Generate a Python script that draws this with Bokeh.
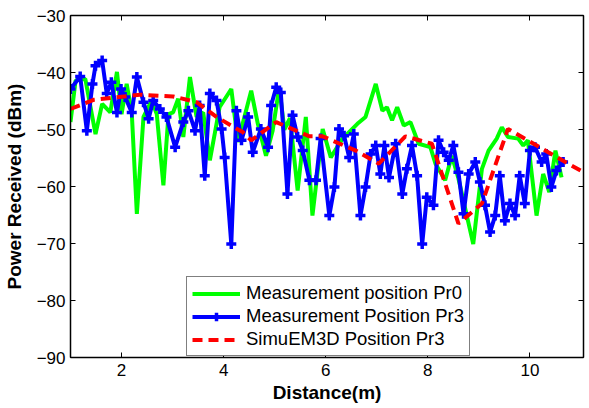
from bokeh.plotting import figure
from bokeh.models import Range1d, LinearAxis, FixedTicker, Legend, LegendItem
from bokeh.embed import file_html
from bokeh.resources import INLINE

# ---- data ----
pr0_x = [1.00, 1.10, 1.29, 1.49, 1.62, 1.78, 1.91, 2.00, 2.10, 2.20, 2.30, 2.43, 2.59, 2.69,
         2.82, 2.92, 3.01, 3.11, 3.21, 3.34, 3.47, 3.60, 3.73, 3.92, 4.15, 4.28, 4.54, 4.67,
         4.83, 4.96, 5.09, 5.19, 5.30, 5.45, 5.61, 5.74, 5.94, 6.10, 6.33, 6.62, 6.78, 6.98,
         7.11, 7.20, 7.30, 7.40, 7.53, 7.66, 7.82, 8.05, 8.15, 8.34, 8.47, 8.60, 8.89, 9.06,
         9.19, 9.35, 9.45, 9.57, 9.77, 9.87, 9.96, 10.13, 10.26, 10.38, 10.50, 10.62]
pr0_y = [-48.7, -41.4, -41.1, -50.8, -45.5, -47.0, -39.9, -47.3, -42.0, -47.0, -64.8, -47.8, -44.9, -47.3,
         -59.8, -47.3, -47.0, -44.6, -51.3, -40.8, -47.8, -47.0, -55.4, -46.1, -42.9, -52.2, -43.2, -49.0,
         -54.6, -50.2, -42.6, -50.0, -48.0, -60.7, -47.8, -65.1, -49.9, -54.9, -51.6, -49.0, -47.8, -42.0,
         -46.7, -46.1, -48.4, -46.1, -49.3, -48.7, -52.5, -53.1, -56.0, -58.9, -54.6, -58.6, -70.1, -56.9,
         -53.7, -51.6, -49.6, -51.3, -51.6, -52.8, -51.9, -65.1, -57.8, -61.0, -53.7, -58.4]

pr3_x = [1.00, 1.19, 1.32, 1.43, 1.49, 1.62, 1.71, 1.80, 1.91, 1.99, 2.07, 2.20, 2.30, 2.43,
         2.53, 2.62, 2.75, 2.88, 3.05, 3.21, 3.31, 3.44, 3.53, 3.63, 3.73, 3.86, 3.96, 4.02,
         4.15, 4.25, 4.35, 4.48, 4.57, 4.73, 4.87, 4.93, 5.03, 5.12, 5.25, 5.35, 5.45, 5.55,
         5.68, 5.81, 5.90, 6.07, 6.17, 6.26, 6.36, 6.46, 6.55, 6.68, 6.78, 6.88, 6.98, 7.07,
         7.15, 7.24, 7.37, 7.50, 7.59, 7.69, 7.79, 7.89, 7.98, 8.11, 8.21, 8.31, 8.41, 8.50,
         8.60, 8.70, 8.80, 8.93, 9.02, 9.12, 9.22, 9.32, 9.41, 9.51, 9.61, 9.71, 9.80, 9.90,
         10.00, 10.10, 10.23, 10.32, 10.42, 10.52, 10.65]
pr3_y = [-42.9, -40.7, -50.2, -42.0, -38.8, -37.9, -43.7, -41.7, -47.0, -42.9, -44.3, -47.0, -40.8, -45.2,
         -48.1, -44.9, -46.4, -47.8, -53.1, -48.7, -46.7, -50.2, -45.8, -58.1, -43.7, -44.9, -49.9, -54.9,
         -70.1, -46.7, -51.9, -47.8, -54.0, -49.9, -53.1, -45.8, -42.6, -43.5, -61.3, -47.5, -51.3, -53.7,
         -58.9, -58.9, -51.6, -65.1, -60.1, -49.9, -51.1, -54.9, -50.8, -65.1, -60.1, -54.3, -52.8, -57.8,
         -52.8, -58.4, -52.5, -61.3, -56.9, -52.8, -58.1, -70.1, -61.9, -63.3, -51.9, -54.0, -55.4, -52.8,
         -57.5, -64.8, -57.8, -55.7, -59.2, -63.3, -68.0, -65.1, -58.1, -66.0, -63.0, -65.1, -58.1, -63.0,
         -53.7, -53.1, -55.7, -54.3, -60.1, -57.2, -55.7]

sim_x = [1.00, 1.45, 2.36, 3.01, 3.47, 3.86, 4.38, 4.54, 5.03, 5.68, 5.94, 6.59, 7.04, 7.56,
         8.08, 8.60, 9.06, 9.57, 10.36, 11.05]
sim_y = [-46.4, -44.8, -43.9, -44.2, -45.2, -47.8, -50.5, -51.9, -48.7, -51.2, -51.2, -53.7, -56.0, -51.2,
         -52.5, -66.5, -63.0, -49.9, -54.0, -57.5]

x_ticks = [2, 4, 6, 8, 10]
y_ticks = [-90, -80, -70, -60, -50, -40, -30]
labels = ["Measurement position Pr0", "Measurement Position Pr3", "SimuEM3D Position Pr3"]

FONT = "Liberation Sans"

p = figure(width=589, height=408, output_backend="svg", toolbar_location=None,
           x_range=Range1d(1.0, 11.05), y_range=Range1d(-90, -30),
           min_border_left=67, min_border_right=6, min_border_top=15, min_border_bottom=51)
p.background_fill_color = "white"
p.border_fill_color = "white"
p.xgrid.visible = False
p.ygrid.visible = False
p.outline_line_color = "black"
p.outline_line_width = 1

def style_axis(ax, show_labels=True):
    ax.axis_line_color = "black"
    ax.axis_line_width = 1.5
    ax.major_tick_in = 5
    ax.major_tick_out = 0
    ax.minor_tick_line_color = None
    ax.major_tick_line_color = "black"
    ax.major_label_text_font = FONT
    if show_labels:
        ax.major_label_text_font_size = "17px"
        ax.major_label_text_color = "black"
    else:
        ax.major_label_text_font_size = "1px"
        ax.major_label_text_color = None
        ax.major_label_standoff = 0

p.xaxis.ticker = FixedTicker(ticks=x_ticks)
p.yaxis.ticker = FixedTicker(ticks=y_ticks)
style_axis(p.xaxis[0])
style_axis(p.yaxis[0])
p.xaxis.major_label_standoff = 6
p.yaxis.major_label_standoff = 5
p.xaxis.axis_label = "Distance(m)"
p.yaxis.axis_label = "Power Received (dBm)"
for ax in (p.xaxis[0], p.yaxis[0]):
    ax.axis_label_text_font = FONT
    ax.axis_label_text_font_style = "bold"
    ax.axis_label_text_font_size = "19px"
    ax.axis_label_text_color = "black"
p.xaxis.axis_label_standoff = 3
p.yaxis.axis_label_standoff = 9

top = LinearAxis(ticker=FixedTicker(ticks=x_ticks))
right = LinearAxis(ticker=FixedTicker(ticks=y_ticks))
style_axis(top, False)
style_axis(right, False)
p.add_layout(top, "above")
p.add_layout(right, "right")

g = p.line(pr0_x, pr0_y, line_color="#00FF00", line_width=4)
b = p.line(pr3_x, pr3_y, line_color="#0000FF", line_width=4)
bm = p.scatter(pr3_x, pr3_y, marker="cross", size=10, line_color="#0000FF", line_width=3.5)
r = p.line(sim_x, sim_y, line_color="#FF0000", line_width=4, line_dash="10 6")

legend = Legend(items=[LegendItem(label=labels[0], renderers=[g]),
                       LegendItem(label=labels[1], renderers=[b, bm]),
                       LegendItem(label=labels[2], renderers=[r])],
                location=(116, 1))
legend.label_text_font = FONT
legend.label_text_font_size = "18.5px"
legend.label_text_color = "black"
legend.glyph_width = 48
legend.glyph_height = 21
legend.label_height = 21
legend.spacing = 1
legend.padding = 5
legend.margin = 0
legend.label_standoff = 6
legend.border_line_color = "black"
legend.border_line_width = 1
legend.background_fill_color = "white"
legend.background_fill_alpha = 1
p.add_layout(legend, "center")

open("out.html", "w").write(file_html(p, INLINE))
